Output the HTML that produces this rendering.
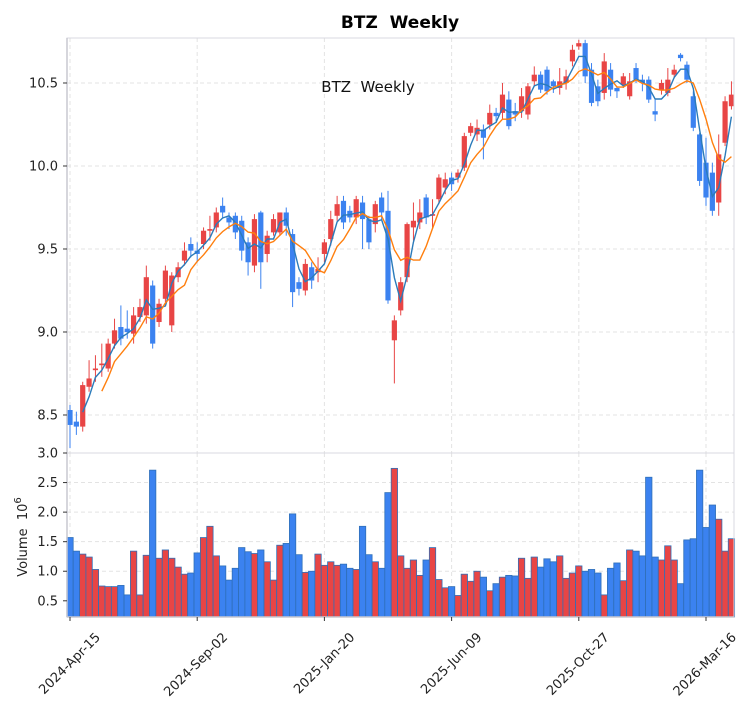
<!DOCTYPE html>
<html><head><meta charset="utf-8"><style>
body{margin:0;background:#fff;}
svg{display:block;font-family:"DejaVu Sans","Liberation Sans",sans-serif;}
</style></head><body>
<svg id="chart" width="754" height="712" viewBox="0 0 754 712" xmlns="http://www.w3.org/2000/svg">
<text x="400" y="28" text-anchor="middle" font-size="17" font-weight="bold" fill="#000">BTZ&#160; Weekly</text>
<g id="grid"></g><g id="vol"></g><g id="candles"></g><g id="ma"></g><g id="axes"></g>
<text x="368" y="92" text-anchor="middle" font-size="15" fill="#111">BTZ&#160; Weekly</text>
<text transform="translate(27,537) rotate(-90)" text-anchor="middle" font-size="13" fill="#222">Volume&#160; 10<tspan dy="-6" font-size="10">6</tspan></text>
</svg>
<script>
const opens=[8.53,8.46,8.43,8.67,8.77,8.80,8.78,8.93,9.03,9.02,8.99,9.09,9.10,9.28,9.06,9.20,9.04,9.33,9.43,9.53,9.49,9.53,9.61,9.63,9.76,9.69,9.70,9.67,9.54,9.40,9.72,9.47,9.60,9.60,9.72,9.59,9.30,9.25,9.39,9.36,9.47,9.56,9.70,9.79,9.73,9.69,9.78,9.68,9.65,9.81,9.73,8.95,9.13,9.33,9.63,9.66,9.81,9.70,9.80,9.87,9.93,9.93,9.99,10.20,10.19,10.22,10.25,10.32,10.32,10.40,10.33,10.33,10.31,10.51,10.55,10.58,10.51,10.47,10.50,10.63,10.72,10.74,10.58,10.48,10.44,10.58,10.47,10.49,10.42,10.59,10.52,10.52,10.33,10.46,10.44,10.55,10.67,10.61,10.42,10.19,10.02,9.96,9.78,10.14,10.36];
const closes=[8.44,8.43,8.68,8.72,8.78,8.81,8.93,9.01,8.96,9.00,9.10,9.15,9.33,8.93,9.17,9.37,9.34,9.39,9.49,9.49,9.47,9.61,9.62,9.72,9.72,9.66,9.60,9.49,9.42,9.68,9.42,9.58,9.68,9.72,9.64,9.24,9.26,9.41,9.31,9.38,9.54,9.68,9.77,9.66,9.69,9.80,9.68,9.54,9.77,9.72,9.19,9.07,9.30,9.65,9.67,9.72,9.69,9.71,9.93,9.92,9.89,9.96,10.18,10.24,10.23,10.17,10.32,10.30,10.43,10.24,10.31,10.42,10.48,10.55,10.46,10.45,10.48,10.51,10.54,10.70,10.74,10.54,10.38,10.39,10.63,10.46,10.45,10.54,10.51,10.52,10.50,10.40,10.31,10.50,10.52,10.58,10.65,10.52,10.23,9.91,9.81,9.73,10.07,10.39,10.43];
const highs=[8.56,8.52,8.70,8.83,8.86,8.93,8.96,9.08,9.16,9.13,9.15,9.20,9.40,9.31,9.20,9.40,9.36,9.42,9.54,9.57,9.54,9.63,9.70,9.75,9.81,9.72,9.72,9.70,9.57,9.71,9.73,9.61,9.71,9.72,9.75,9.62,9.33,9.44,9.42,9.45,9.56,9.73,9.82,9.82,9.76,9.82,9.82,9.70,9.79,9.84,9.85,9.10,9.33,9.66,9.78,9.80,9.83,9.80,9.95,9.96,9.96,9.98,10.20,10.26,10.28,10.25,10.37,10.35,10.50,10.45,10.38,10.47,10.50,10.60,10.57,10.60,10.52,10.59,10.58,10.73,10.76,10.76,10.62,10.52,10.68,10.62,10.48,10.56,10.56,10.62,10.55,10.54,10.40,10.52,10.59,10.61,10.68,10.63,10.45,10.20,10.17,10.02,10.19,10.42,10.51];
const lows=[8.30,8.38,8.40,8.64,8.70,8.73,8.76,8.90,8.92,8.96,8.93,9.06,9.05,8.90,9.03,9.18,9.00,9.30,9.40,9.45,9.42,9.50,9.55,9.60,9.69,9.62,9.56,9.43,9.34,9.36,9.26,9.42,9.58,9.58,9.58,9.15,9.22,9.22,9.26,9.30,9.42,9.52,9.67,9.62,9.66,9.65,9.50,9.50,9.60,9.68,9.17,8.69,9.10,9.30,9.55,9.62,9.65,9.62,9.77,9.83,9.85,9.90,9.97,10.18,10.15,10.04,10.22,10.26,10.28,10.22,10.27,10.29,10.28,10.48,10.44,10.43,10.44,10.43,10.46,10.60,10.70,10.50,10.36,10.36,10.40,10.42,10.41,10.47,10.40,10.50,10.45,10.38,10.27,10.43,10.42,10.53,10.63,10.50,10.21,9.88,9.76,9.70,9.70,10.12,10.34];
const volumes=[1.57,1.34,1.29,1.24,1.03,0.75,0.74,0.74,0.76,0.60,1.34,0.60,1.27,2.71,1.22,1.36,1.22,1.07,0.95,0.97,1.31,1.57,1.76,1.26,1.09,0.85,1.05,1.40,1.33,1.30,1.36,1.16,0.85,1.44,1.47,1.97,1.28,0.98,1.00,1.29,1.10,1.16,1.10,1.12,1.05,1.03,1.76,1.28,1.16,1.05,2.33,2.74,1.26,1.05,1.19,0.93,1.19,1.40,0.86,0.72,0.74,0.59,0.95,0.83,1.00,0.90,0.67,0.79,0.90,0.93,0.92,1.22,0.88,1.24,1.07,1.21,1.16,1.26,0.88,0.97,1.09,1.00,1.03,0.97,0.60,1.05,1.14,0.84,1.36,1.34,1.26,2.59,1.24,1.19,1.43,1.19,0.79,1.53,1.55,2.71,1.74,2.12,1.88,1.34,1.55];
const priceTicks=[8.5,9.0,9.5,10.0,10.5];
const volTicks=[0.5,1.0,1.5,2.0,2.5,3.0];
const dateIdx=[0,20,40,60,80,100];
const dateLabels=["2024-Apr-15","2024-Sep-02","2025-Jan-20","2025-Jun-09","2025-Oct-27","2026-Mar-16"];

const NS="http://www.w3.org/2000/svg";
const L=67,R=734,PT=38,PB=453,VT=453,VB=617;
const pMin=8.271,pMax=10.771,vMin=0.226,vMax=3.0;
const xOf=i=>70+6.36*i;
const yP=p=>PB-(p-pMin)/(pMax-pMin)*(PB-PT);
const yV=v=>VB-(v-vMin)/(vMax-vMin)*(VB-VT);
function mk(tag,attrs,parent){const e=document.createElementNS(NS,tag);for(const k in attrs)e.setAttribute(k,attrs[k]);parent.appendChild(e);return e;}
const G=id=>document.getElementById(id);
const UP="#e84545",DN="#3b82f0";

priceTicks.forEach(t=>{const l=mk('line',{x1:L,x2:R,y1:yP(t),y2:yP(t),stroke:'#e3e3e3','stroke-dasharray':'4,3'},G('grid'));

});
volTicks.forEach(t=>{const l=mk('line',{x1:L,x2:R,y1:yV(t),y2:yV(t),stroke:'#e3e3e3','stroke-dasharray':'4,3'},G('grid'));

});
dateIdx.forEach(i=>{[[PT,PB],[VT,VB]].forEach(r=>{const l=mk('line',{x1:xOf(i),x2:xOf(i),y1:r[0],y2:r[1],stroke:'#e3e3e3','stroke-dasharray':'4,3'},G('grid'));

});});

volumes.forEach((v,i)=>{const up=closes[i]>=opens[i];const y=yV(v);
const b=mk('rect',{x:xOf(i)-3.18,y:y,width:6.36,height:VB-y,fill:up?UP:DN,stroke:'#2f6fb8','stroke-width':0.8},G('vol'));

});

opens.forEach((o,i)=>{const c=closes[i];const up=c>=o;const col=up?UP:DN;const x=xOf(i);
const w=mk('line',{x1:x,x2:x,y1:yP(highs[i]),y2:yP(lows[i]),stroke:col,'stroke-width':1},G('candles'));


const top=yP(Math.max(o,c)),bot=yP(Math.min(o,c));
const b=mk('rect',{x:x-2.6,y:top,width:5.2,height:Math.max(1.5,bot-top),fill:col},G('candles'));

});

function ma(n){const pts=[];for(let i=n-1;i<closes.length;i++){let s=0;for(let k=i-n+1;k<=i;k++)s+=closes[k];pts.push(xOf(i).toFixed(1)+','+yP(s/n).toFixed(1));}return pts.join(' ');}
const m1=mk('polyline',{points:ma(3),fill:'none',stroke:'#2b7bba','stroke-width':1.4},G('ma'));


const m2=mk('polyline',{points:ma(6),fill:'none',stroke:'#ff7f0e','stroke-width':1.4},G('ma'));



const ax=G('axes');
[[L,PT,R-L,PB-PT],[L,VT,R-L,VB-VT]].forEach(r=>{const f=mk('rect',{x:r[0],y:r[1],width:r[2],height:r[3],fill:'none',stroke:'#d8d8e0','stroke-width':1},ax);

});
mk('line',{x1:L,x2:L,y1:PT,y2:VB,stroke:'#c8c8d0','stroke-width':1.5},ax);
mk('line',{x1:L,x2:R,y1:VB,y2:VB,stroke:'#c8c8d0','stroke-width':1.5},ax);
priceTicks.forEach(t=>{mk('line',{x1:L-4,x2:L,y1:yP(t),y2:yP(t),stroke:'#333'},ax);
const tx=mk('text',{x:L-9,y:yP(t)+4.5,'text-anchor':'end','font-size':13,fill:'#222'},ax);tx.textContent=t.toFixed(1);

});
volTicks.forEach(t=>{mk('line',{x1:L-4,x2:L,y1:yV(t),y2:yV(t),stroke:'#333'},ax);
const tx=mk('text',{x:L-9,y:yV(t)+4.5,'text-anchor':'end','font-size':13,fill:'#222'},ax);tx.textContent=t.toFixed(1);

});
dateIdx.forEach((i,k)=>{const x=xOf(i);mk('line',{x1:x,x2:x,y1:VB,y2:VB+4,stroke:'#333'},ax);
const tx=mk('text',{transform:`translate(${x+31},${VB+21}) rotate(-45)`,'text-anchor':'end','font-size':13,fill:'#222'},ax);tx.textContent=dateLabels[k];

});
</script>
</body></html>
